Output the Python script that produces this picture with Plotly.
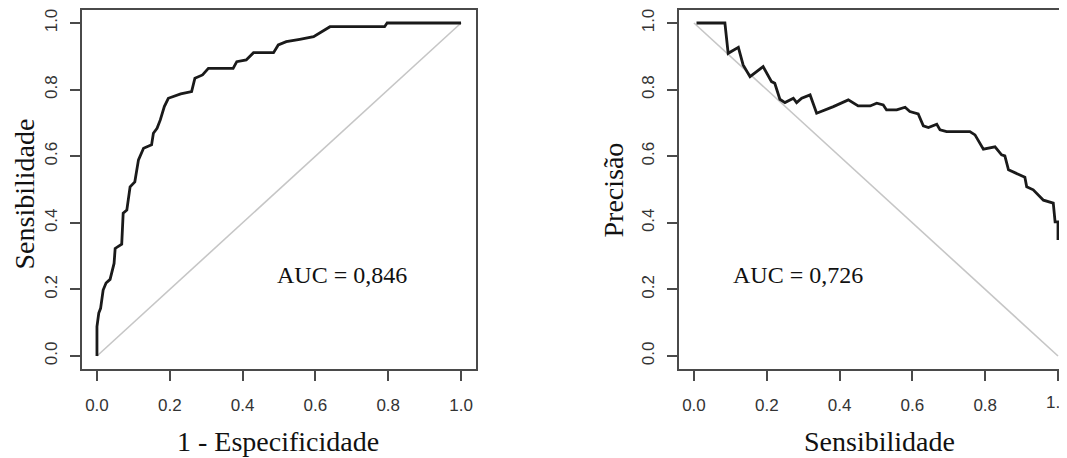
import plotly.graph_objects as go

# ROC curve (1 - specificity vs sensitivity)
roc_fpr = [0.000, 0.000, 0.005, 0.010, 0.017, 0.025, 0.036, 0.047, 0.050, 0.068,
           0.072, 0.082, 0.091, 0.104, 0.114, 0.128, 0.150, 0.155, 0.165, 0.174,
           0.185, 0.196, 0.230, 0.260, 0.269, 0.290, 0.306, 0.374, 0.384, 0.410,
           0.430, 0.485, 0.498, 0.520, 0.557, 0.595, 0.640, 0.790, 0.797, 1.000]
roc_tpr = [0.000, 0.088, 0.129, 0.143, 0.198, 0.219, 0.230, 0.278, 0.323, 0.336,
           0.429, 0.438, 0.508, 0.523, 0.589, 0.624, 0.634, 0.669, 0.684, 0.709,
           0.749, 0.774, 0.787, 0.794, 0.834, 0.844, 0.864, 0.864, 0.884, 0.889,
           0.911, 0.911, 0.934, 0.944, 0.951, 0.959, 0.989, 0.989, 1.000, 1.000]

# Precision-recall curve
pr_recall = [0.007, 0.085, 0.094, 0.122, 0.135, 0.154, 0.190, 0.213, 0.222, 0.236,
             0.250, 0.273, 0.282, 0.296, 0.319, 0.337, 0.383, 0.424, 0.451, 0.484,
             0.502, 0.520, 0.529, 0.557, 0.580, 0.593, 0.616, 0.630, 0.644, 0.667,
             0.676, 0.694, 0.758, 0.772, 0.795, 0.827, 0.845, 0.854, 0.864, 0.887,
             0.909, 0.914, 0.932, 0.960, 0.987, 0.992, 1.000, 1.000]
pr_precision = [1.000, 1.000, 0.909, 0.927, 0.874, 0.839, 0.869, 0.824, 0.819, 0.771,
                0.761, 0.774, 0.761, 0.774, 0.784, 0.729, 0.749, 0.769, 0.751, 0.751,
                0.759, 0.754, 0.739, 0.739, 0.747, 0.734, 0.727, 0.691, 0.686, 0.696,
                0.679, 0.674, 0.674, 0.664, 0.621, 0.628, 0.604, 0.601, 0.559, 0.547,
                0.537, 0.508, 0.499, 0.468, 0.459, 0.403, 0.403, 0.348]

# reference diagonals
roc_diag_x = [0, 1]
roc_diag_y = [0, 1]
pr_diag_x = [0, 1]
pr_diag_y = [1, 0]

tick_vals = [0.0, 0.2, 0.4, 0.6, 0.8, 1.0]
tick_text = ["0.0", "0.2", "0.4", "0.6", "0.8", "1.0"]

auc_roc_text = "AUC = 0,846"
auc_pr_text = "AUC = 0,726"

# the page body has an 8px margin, so the figure starts at (8, 8) on screen
OFF = 8
FW, FH = 1067 - OFF, 458 - OFF
SERIF = "Liberation Serif, Times New Roman, serif"
SANS = "Liberation Sans, Arial, sans-serif"
BOX = "#4a4a4a"
CURVE = "#1a1a1a"
DIAG = "#c6c6c6"
TICKFONT = dict(family=SANS, size=17, color="#333333")

fig = go.Figure()
fig.add_trace(go.Scatter(x=roc_diag_x, y=roc_diag_y, mode="lines",
                         line=dict(color=DIAG, width=1.6), xaxis="x", yaxis="y",
                         showlegend=False, hoverinfo="skip"))
fig.add_trace(go.Scatter(x=roc_fpr, y=roc_tpr, mode="lines",
                         line=dict(color=CURVE, width=2.8), xaxis="x", yaxis="y",
                         showlegend=False))
fig.add_trace(go.Scatter(x=pr_diag_x, y=pr_diag_y, mode="lines",
                         line=dict(color=DIAG, width=1.6), xaxis="x2", yaxis="y2",
                         showlegend=False, hoverinfo="skip"))
fig.add_trace(go.Scatter(x=pr_recall, y=pr_precision, mode="lines",
                         line=dict(color=CURVE, width=2.8), xaxis="x2", yaxis="y2",
                         showlegend=False))


def px_x(p):
    # screen pixel -> paper x
    return (p - OFF) / FW


def px_y(p):
    # screen pixel -> paper y
    return (OFF + FH - p) / FH


axis_common = dict(
    tickvals=tick_vals, ticktext=tick_text, showgrid=False, zeroline=False,
    showline=True, linecolor=BOX, linewidth=2,
    ticks="outside", ticklen=10, tickwidth=2, tickcolor=BOX,
    tickfont=TICKFONT,
)

# screen layout: value 0 -> 97 px, value 1 -> 461 px (left); 694 / 1058 px (right)
fig.update_layout(
    width=FW, height=FH,
    margin=dict(l=0, r=0, t=0, b=0),
    paper_bgcolor="white", plot_bgcolor="white",
    xaxis=dict(domain=[px_x(82.4), px_x(475.6)], range=[-0.04, 1.04],
               mirror=True, anchor="y", ticklabelstandoff=9, **axis_common),
    yaxis=dict(domain=[px_y(369.3), px_y(9.7)], range=[-0.04, 1.04],
               mirror=True, anchor="x", tickangle=-90, ticklabelstandoff=7,
               **axis_common),
    xaxis2=dict(domain=[px_x(679.4), 1.0], range=[-0.04, (1067 - 694) / 364],
                mirror=True, anchor="y2", ticklabelstandoff=9, **axis_common),
    yaxis2=dict(domain=[px_y(369.3), px_y(9.7)], range=[-0.04, 1.04],
                mirror=False, anchor="x2", tickangle=-90, ticklabelstandoff=7,
                **axis_common),
)

# last tick label of the right panel runs off the page edge in the original
fig.add_annotation(x=tick_vals[-1], y=px_y(402), xref="x2", yref="paper",
                   text=tick_text[-1], xanchor="center", yanchor="middle",
                   showarrow=False, font=TICKFONT)

fig.add_annotation(x=0.673, y=0.243, xref="x", yref="y", text=auc_roc_text,
                   xanchor="center", yanchor="middle",
                   showarrow=False, font=dict(family=SERIF, size=24, color="#111"))
fig.add_annotation(x=0.285, y=0.243, xref="x2", yref="y2", text=auc_pr_text,
                   xanchor="center", yanchor="middle",
                   showarrow=False, font=dict(family=SERIF, size=24, color="#111"))

title_font = dict(family=SERIF, size=28, color="#111")
fig.add_annotation(x=px_x(278), y=px_y(441), xref="paper", yref="paper",
                   xanchor="center", yanchor="middle",
                   text="1 - Especificidade", showarrow=False, font=title_font)
fig.add_annotation(x=px_x(879), y=px_y(441), xref="paper", yref="paper",
                   xanchor="center", yanchor="middle",
                   text="Sensibilidade", showarrow=False, font=title_font)
fig.add_annotation(x=px_x(23.5), y=px_y(194), xref="paper", yref="paper",
                   xanchor="center", yanchor="middle",
                   text="Sensibilidade", textangle=-90, showarrow=False, font=title_font)
fig.add_annotation(x=px_x(613), y=px_y(190.5), xref="paper", yref="paper",
                   xanchor="center", yanchor="middle",
                   text="Precisão", textangle=-90, showarrow=False, font=title_font)

# clip anything (the cut "1.0" label) that runs past the figure edge, like the original
clip_js = (
    "document.documentElement.style.overflow='hidden';"
    "document.body.style.overflow='hidden';"
    "document.querySelectorAll('.main-svg').forEach(function(s){s.style.overflow='hidden';});"
)

fig.write_html("out.html", post_script=clip_js)
